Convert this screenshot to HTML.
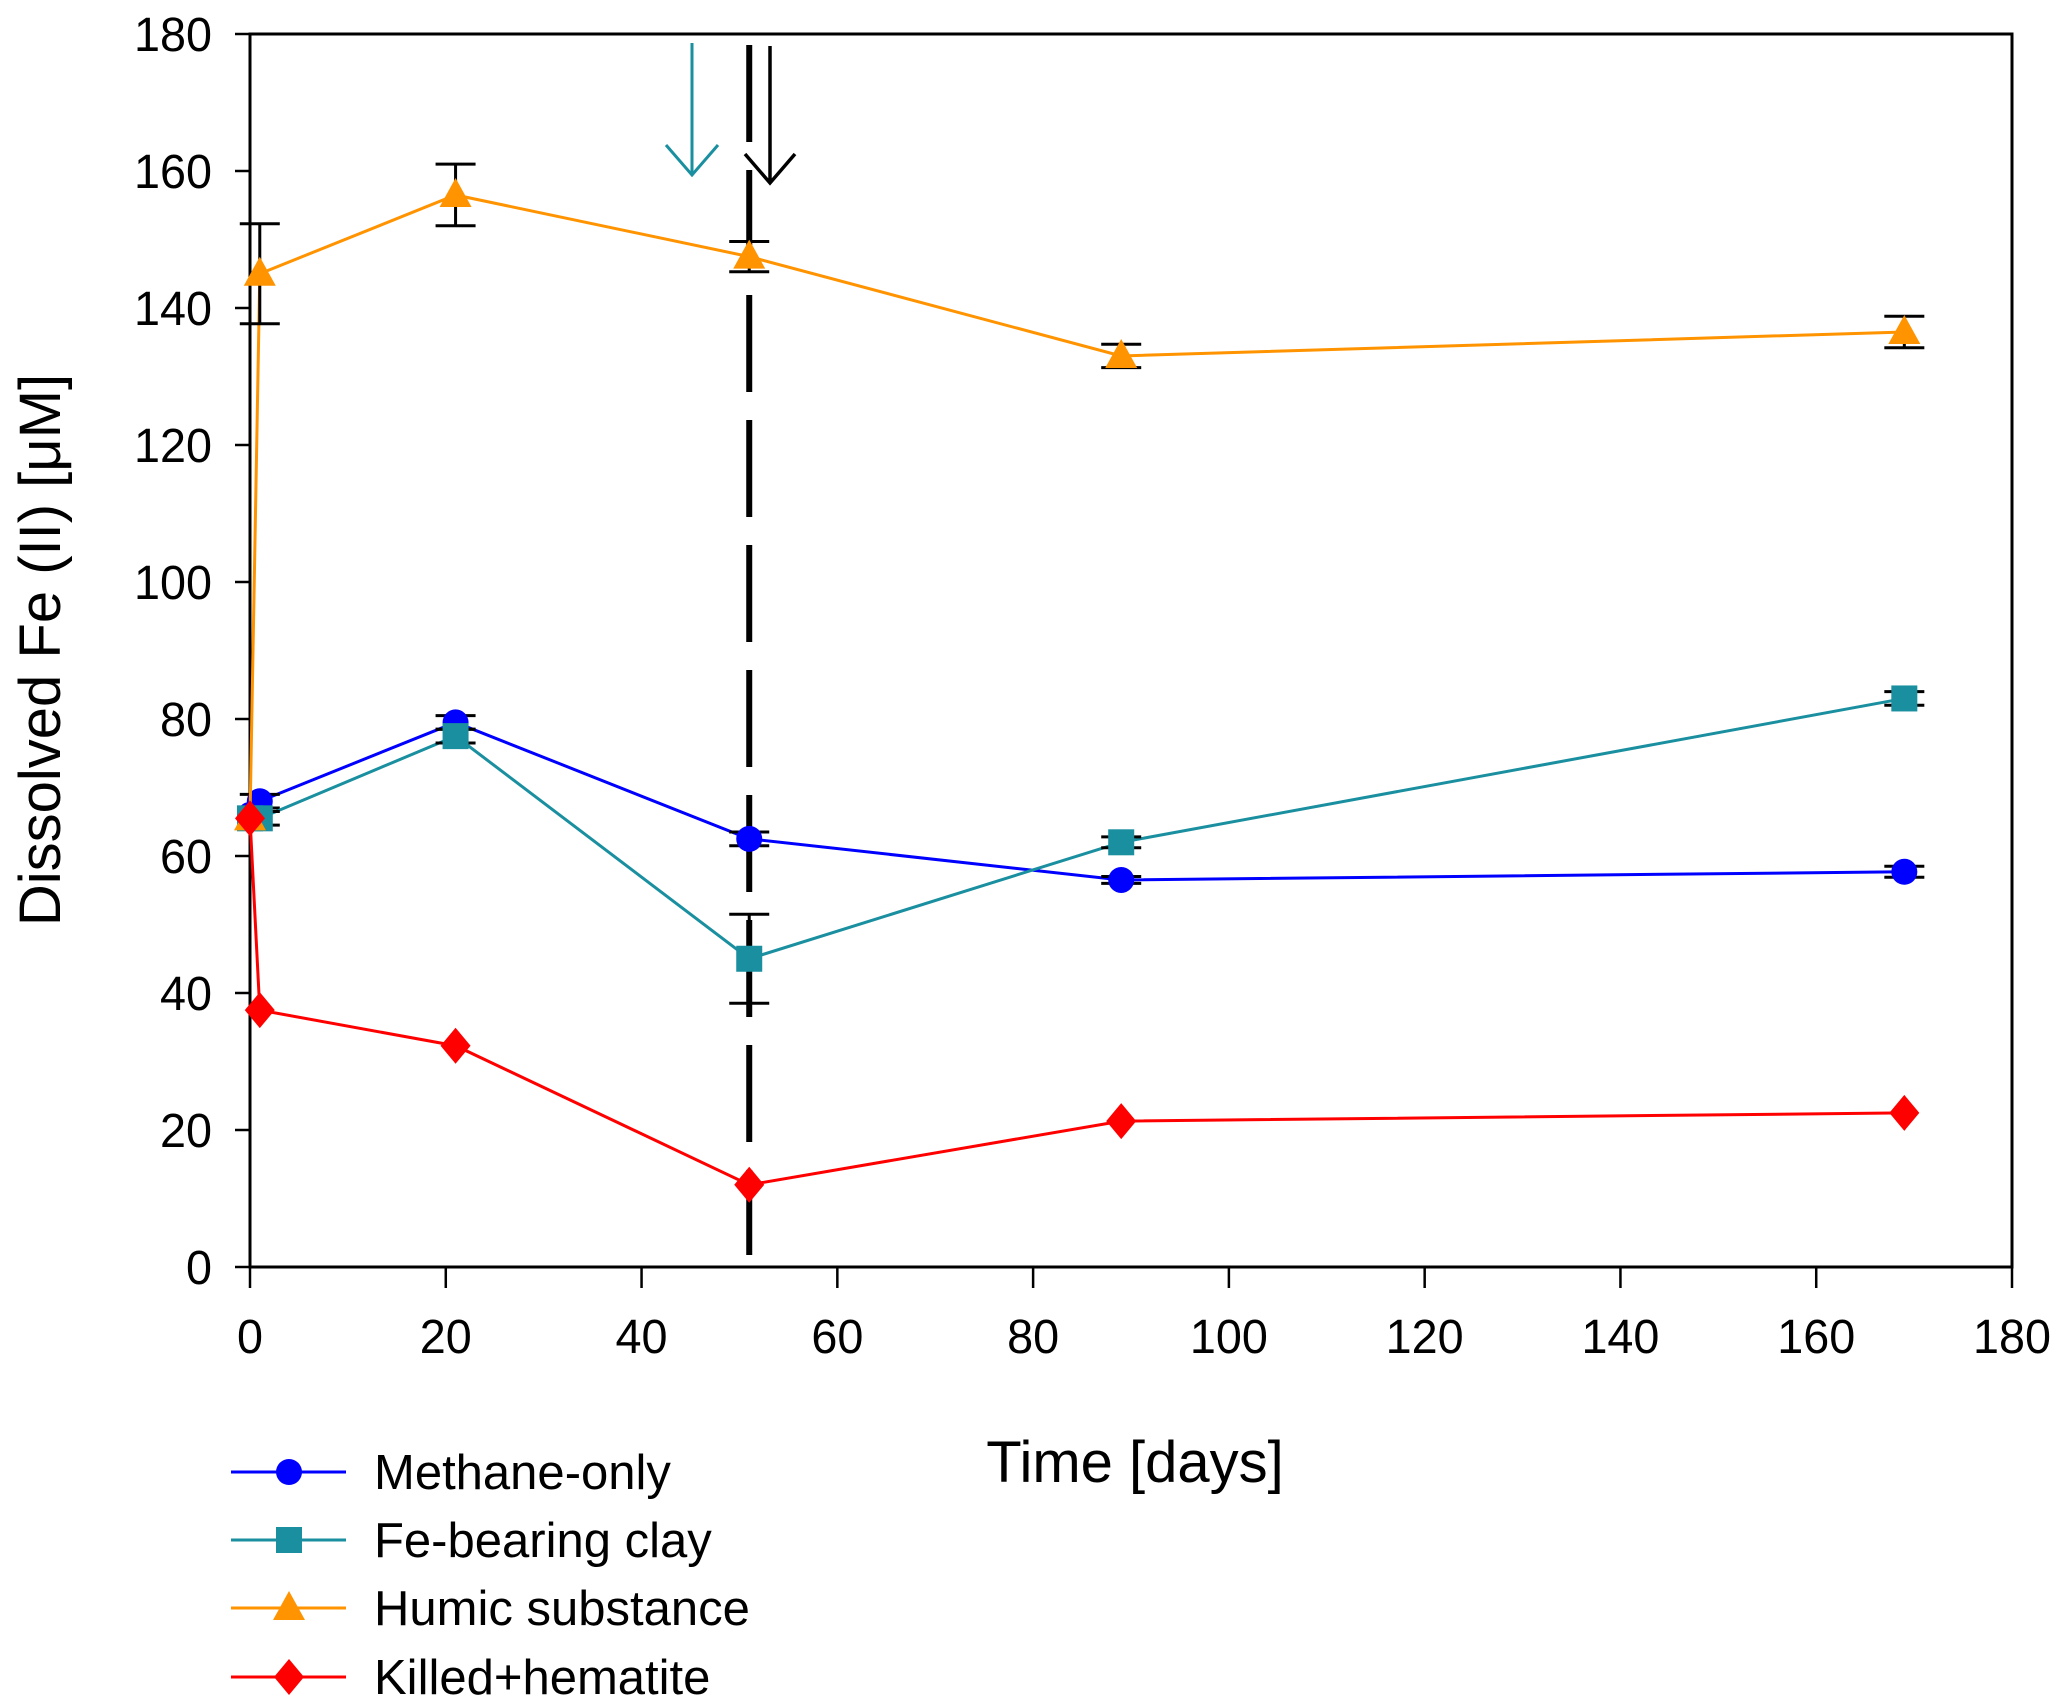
<!DOCTYPE html>
<html><head><meta charset="utf-8"><style>
html,body{margin:0;padding:0;background:#fff;}
svg{display:block;font-family:"Liberation Sans",Arial,sans-serif;}
</style></head><body>
<svg id="chart" width="2067" height="1707" viewBox="0 0 2067 1707" xmlns="http://www.w3.org/2000/svg">
<g id="axes"></g>
<g id="series"></g>
<g id="legend"></g>
</svg>
<script>
const days = [0, 1, 21, 51, 89, 169];
const methane = [66, 68, 79.5, 62.5, 56.5, 57.7];
const methaneErr = [0, 1, 1, 1, 0.5, 0.8];
const clay = [65.5, 65.5, 77.5, 45, 62, 83];
const clayErr = [0, 1, 1, 6.5, 0.8, 1];
const humic = [65.5, 145, 156.5, 147.5, 133, 136.5];
const humicErr = [0, 7.3, 4.5, 2.2, 1.7, 2.3];
const killed = [65.5, 37.5, 32.3, 12, 21.3, 22.5];
const killedErr = [0, 0, 0, 0, 0, 0];
const xTicks = [0, 20, 40, 60, 80, 100, 120, 140, 160, 180];
const yTicks = [0, 20, 40, 60, 80, 100, 120, 140, 160, 180];
const seriesNames = ["Methane-only", "Fe-bearing clay", "Humic substance", "Killed+hematite"];
const eventDay = 51;

const NS = "http://www.w3.org/2000/svg";
const L = 250, R = 2012, T = 34, B = 1267;
function X(v){ return L + (v - 0) / 180 * (R - L); }
function Y(v){ return B - (v - 0) / 180 * (B - T); }
function mk(tag, attrs, parent){ const e = document.createElementNS(NS, tag); for (const k in attrs) e.setAttribute(k, attrs[k]); parent.appendChild(e); return e; }

const axes = document.getElementById('axes');
const frame = mk('rect', {x:L, y:T, width:R-L, height:B-T, fill:'none', stroke:'#000', 'stroke-width':3}, axes);


xTicks.forEach(t => {
  const ln = mk('line', {x1:X(t), x2:X(t), y1:B, y2:B+21, stroke:'#000', 'stroke-width':2.5}, axes);
  
  
  const tx = mk('text', {x:X(t), y:1353, 'font-size':48, 'text-anchor':'middle', textLength: (String(t).length*26), lengthAdjust:'spacingAndGlyphs'}, axes);
  tx.textContent = t;
  
  
});
yTicks.forEach(t => {
  const ln = mk('line', {x1:L-15, x2:L, y1:Y(t), y2:Y(t), stroke:'#000', 'stroke-width':2.5}, axes);
  
  
  const tx = mk('text', {x:212, y:Y(t)+17, 'font-size':48, 'text-anchor':'end', textLength: (String(t).length*26), lengthAdjust:'spacingAndGlyphs'}, axes);
  tx.textContent = t;
  
  
});
const xt = mk('text', {x:1135, y:1482, 'font-size':58, 'text-anchor':'middle'}, axes);
xt.textContent = 'Time [days]';


const yt = mk('text', {x:0, y:0, 'font-size':58, 'text-anchor':'middle', transform:'translate(60,650) rotate(-90)'}, axes);
yt.textContent = 'Dissolved Fe (II) [\u03BCM]';



const ev = mk('line', {x1:X(eventDay), x2:X(eventDay), y1:45, y2:1255, stroke:'#000', 'stroke-width':6, 'stroke-dasharray':'97 28'}, axes);


const ba = mk('path', {d:'M770 46 L770 183 M745 154 L770 183 L795 154', fill:'none', stroke:'#000', 'stroke-width':3.5}, axes);


const ta = mk('path', {d:'M692 43 L692 175 M666 145 L692 175 L718 145', fill:'none', stroke:'#1a8fa0', 'stroke-width':3}, axes);



const sg = document.getElementById('series');
function marker(shape, cx, cy, color, parent){
  let e;
  if (shape === 'circle') e = mk('circle', {cx:cx, cy:cy, r:13, fill:color}, parent);
  else if (shape === 'square') e = mk('rect', {x:cx-13, y:cy-13, width:26, height:26, fill:color}, parent);
  else if (shape === 'triangle') e = mk('polygon', {points:`${cx},${cy-17} ${cx-16},${cy+12} ${cx+16},${cy+12}`, fill:color}, parent);
  else e = mk('polygon', {points:`${cx},${cy-18} ${cx+15},${cy} ${cx},${cy+18} ${cx-15},${cy}`, fill:color}, parent);
  return e;
}
const defs = [
  {vals:methane, err:methaneErr, color:'#0000ff', shape:'circle', name:'methane-only'},
  {vals:clay, err:clayErr, color:'#1a8fa0', shape:'square', name:'fe-bearing-clay'},
  {vals:humic, err:humicErr, color:'#ff9300', shape:'triangle', name:'humic-substance'},
  {vals:killed, err:killedErr, color:'#ff0000', shape:'diamond', name:'killed-hematite'}
];
defs.forEach(s => {
  const g = mk('g', {}, sg);
  
  
  const pts = days.map((d,i) => X(d) + ',' + Y(s.vals[i])).join(' ');
  const pl = mk('polyline', {points:pts, fill:'none', stroke:s.color, 'stroke-width':3}, g);
  
  
  days.forEach((d,i) => {
    if (s.err[i] > 0) {
      const cx = X(d), y1 = Y(s.vals[i] + s.err[i]), y2 = Y(s.vals[i] - s.err[i]);
      const eb = mk('path', {d:`M${cx} ${y1} L${cx} ${y2} M${cx-20} ${y1} L${cx+20} ${y1} M${cx-20} ${y2} L${cx+20} ${y2}`, stroke:'#000', 'stroke-width':3, fill:'none'}, g);
      
      
    }
  });
  days.forEach((d,i) => {
    const m = marker(s.shape, X(d), Y(s.vals[i]), s.color, g);
    
    
  });
});

const lg = document.getElementById('legend');
const rows = [1472, 1540, 1608, 1677];
defs.forEach((s,i) => {
  const g = mk('g', {}, lg);
  
  
  mk('line', {x1:231, x2:346, y1:rows[i], y2:rows[i], stroke:s.color, 'stroke-width':3}, g);
  marker(s.shape, 289, rows[i], s.color, g);
  const t = mk('text', {x:374, y:rows[i]+17, 'font-size':49}, g);
  t.textContent = seriesNames[i];
});
</script>
</body></html>
